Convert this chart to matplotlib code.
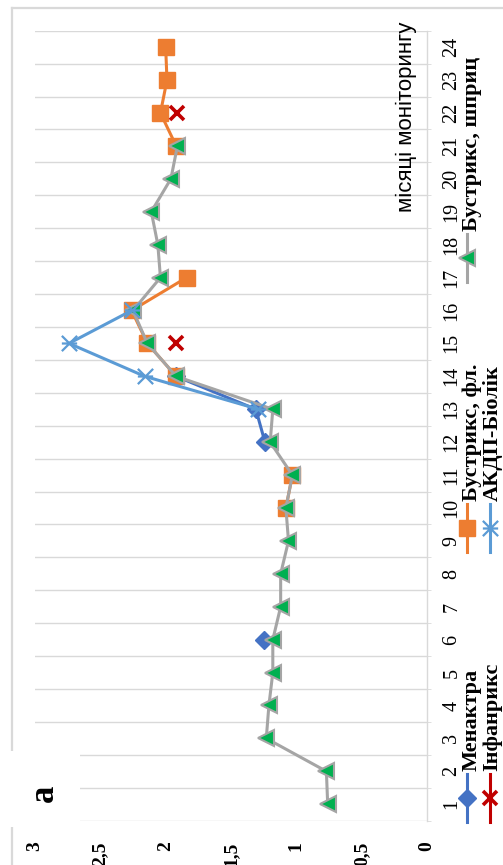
import matplotlib.pyplot as plt
import numpy as np
from matplotlib.lines import Line2D
from matplotlib.patches import Rectangle
from matplotlib.path import Path

plt.rcParams.update({
    "font.family": "Liberation Serif",
    "axes.linewidth": 1.0,
})

nan = np.nan

# --- data (value per month, nan = no measurement) ---
months = np.arange(1, 25)
month_labels = [str(m) for m in months]
value_ticks = [0, 0.5, 1, 1.5, 2, 2.5, 3]
value_labels = ["0", "0,5", "1", "1,5", "2", "2,5", "3"]

menactra_months = np.arange(6, 15)
menactra = [1.25, nan, nan, nan, nan, nan, 1.24, 1.31, 1.92]

boostrix_fl_months = np.arange(10, 25)
boostrix_fl = [1.08, 1.03, nan, nan, 1.92, 2.14, 2.26, 1.84,
               nan, nan, nan, 1.92, 2.04, 1.99, 2.00]

boostrix_syr_months = np.arange(1, 22)
boostrix_syr = [0.76, 0.77, 1.23, 1.21, 1.18, 1.18, 1.12, 1.12, 1.06, 1.08,
                1.03, 1.20, 1.18, 1.92, 2.14, 2.25, 2.04, 2.06, 2.11, 1.96, 1.91]

akdp_months = [13, 14, 15, 16]
akdp = [1.29, 2.16, 2.74, 2.26]

infanrix_months = np.arange(15, 23)
infanrix = [1.92, nan, nan, nan, nan, nan, nan, 1.91]

# asterisk marker (x with a bar)
star = Path([(-1, -1), (1, 1), (-1, 1), (1, -1), (-1, 0), (1, 0)],
            [Path.MOVETO, Path.LINETO, Path.MOVETO, Path.LINETO,
             Path.MOVETO, Path.LINETO])

styles = {
    "Менактра": dict(color="#4472C4", marker="D", ms=9, lw=2.2, zorder=3),
    "Бустрикс, фл.": dict(color="#ED7D31", marker="s", ms=12, lw=2.2, zorder=3),
    "Бустрикс, шприц": dict(color="#A5A5A5", marker="<", ms=12, mfc="#00B050",
                            mec="#A5A5A5", mew=1.5, lw=2.2, zorder=4),
    "АКДП-Біолік": dict(color="#5B9BD5", marker=star, ms=11, mfc="none",
                        mew=1.6, lw=2.2, zorder=5),
    "Інфанрикс": dict(color="#C00000", marker="x", ms=10, mew=2.6, lw=2.2, zorder=5),
}

W, H = 503, 865


def fx(x):
    return x / W


def fy(y):
    return 1 - y / H


fig = plt.figure(figsize=(W / 100, H / 100), dpi=100)
ax = fig.add_axes([fx(35), fy(820.7), 392 / W, 790 / H])

# chart is drawn rotated: value on x (3 at left), month on y (1 at bottom)
ax.plot(menactra, menactra_months, **styles["Менактра"])
ax.plot(boostrix_fl, boostrix_fl_months, **styles["Бустрикс, фл."])
ax.plot(boostrix_syr, boostrix_syr_months, **styles["Бустрикс, шприц"])
ax.plot(akdp, akdp_months, **styles["АКДП-Біолік"])
ax.plot(infanrix, infanrix_months, **styles["Інфанрикс"])

ax.set_xlim(3, 0)
ax.set_ylim(0.5, 24.5)

for s in ["top", "left", "bottom"]:
    ax.spines[s].set_visible(False)
ax.spines["right"].set_color("#d9d9d9")

ax.yaxis.tick_right()
ax.set_yticks(months, month_labels, rotation=90, va="center", fontsize=14.5)
ax.set_yticks(np.arange(0.5, 25, 1), minor=True)
ax.tick_params(axis="y", which="major", length=0, pad=11)
ax.tick_params(axis="y", which="minor", length=3, color="#d9d9d9", direction="out")
ax.grid(axis="y", which="minor", color="#d9d9d9", lw=1)

ax.set_xticks(value_ticks, value_labels, rotation=90, fontsize=14, fontweight="bold")
ax.tick_params(axis="x", length=0, pad=15)

# outer chart frame
frame_kw = dict(color="#d9d9d9", lw=1.6, transform=fig.transFigure, zorder=1)
fig.add_artist(Line2D([fx(12), 1], [fy(8), fy(8)], **frame_kw))
fig.add_artist(Line2D([fx(12), fx(12)], [fy(8), 0], **frame_kw))

# white label box with panel letter
fig.add_artist(Rectangle((fx(5), fy(827)), 75 / W, 76 / H, facecolor="white",
                         edgecolor="none", transform=fig.transFigure, zorder=2))
fig.text(fx(44), fy(793), "а", rotation=90, ha="center", va="center",
         fontsize=25, fontweight="bold", zorder=3)

# axis title
fig.text(fx(406), fy(117), "місяці моніторингу", rotation=90, ha="center",
         va="center", fontsize=16, family="Liberation Sans")

# legend, built by hand because it is rotated
legend_items = [
    ("Менактра", 467, 471.5, 798),
    ("Бустрикс, фл.", 467, 471.5, 528),
    ("Бустрикс, шприц", 467, 471.5, 258),
    ("Інфанрикс", 490, 492.5, 798),
    ("АКДП-Біолік", 490, 492.5, 528),
]
for name, hx, tx, ym in legend_items:
    st = dict(styles[name])
    st.pop("zorder")
    fig.add_artist(Line2D([fx(hx), fx(hx)], [fy(ym + 24), fy(ym - 24)],
                          color=st["color"], lw=st["lw"], transform=fig.transFigure))
    mk = {k: v for k, v in st.items() if k != "lw"}
    fig.add_artist(Line2D([fx(hx)], [fy(ym)], ls="none", transform=fig.transFigure, **mk))
    fig.text(fx(tx), fy(ym - 27), name, rotation=90, ha="center", va="bottom",
             fontsize=16, fontweight="bold")

fig.savefig("out.png", dpi=100)
